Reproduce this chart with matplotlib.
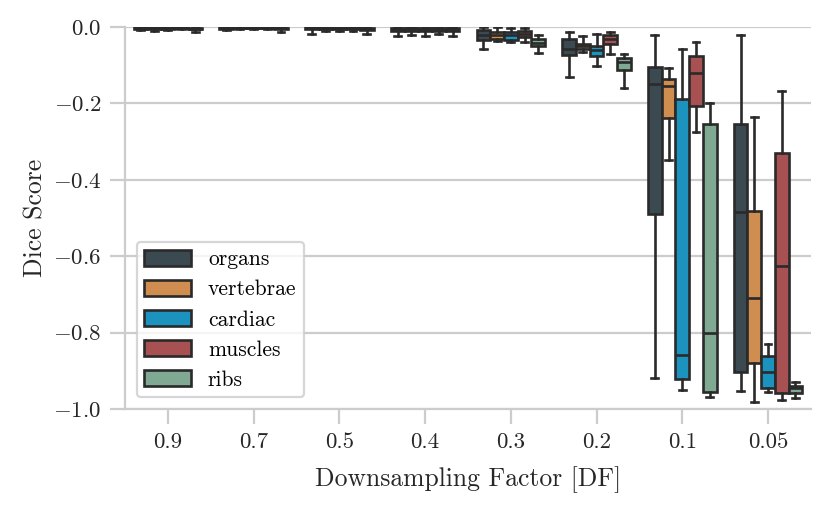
import matplotlib
matplotlib.use("Agg")
import matplotlib.pyplot as plt
from matplotlib.patches import Patch
import numpy as np

plt.rcParams['font.family'] = 'serif'
plt.rcParams['font.serif'] = ['cmr10']
plt.rcParams['mathtext.fontset'] = 'cm'
plt.rcParams['axes.formatter.use_mathtext'] = True
plt.rcParams['axes.unicode_minus'] = True

factors = ['0.9', '0.7', '0.5', '0.4', '0.3', '0.2', '0.1', '0.05']
structures = ['organs', 'vertebrae', 'cardiac', 'muscles', 'ribs']
colors = ['#3b4a50', '#cf8e50', '#1c93bf', '#a85153', '#7fa993']

# box stats per structure, one value per downsampling factor
organs_whishi = [0.0, 0.0, 0.0, 0.0, -0.001, -0.014, -0.020, -0.020]
organs_q3 = [-0.001, -0.001, -0.001, -0.002, -0.008, -0.032, -0.104, -0.255]
organs_med = [-0.002, -0.002, -0.003, -0.005, -0.021, -0.058, -0.150, -0.485]
organs_q1 = [-0.004, -0.004, -0.006, -0.010, -0.034, -0.073, -0.490, -0.904]
organs_whislo = [-0.007, -0.008, -0.017, -0.024, -0.058, -0.130, -0.920, -0.953]

vertebrae_whishi = [0.0, 0.0, 0.0, 0.0, -0.001, -0.024, -0.106, -0.236]
vertebrae_q3 = [-0.001, -0.001, -0.001, -0.003, -0.012, -0.043, -0.137, -0.481]
vertebrae_med = [-0.002, -0.002, -0.002, -0.006, -0.020, -0.050, -0.154, -0.709]
vertebrae_q1 = [-0.004, -0.003, -0.005, -0.010, -0.030, -0.058, -0.239, -0.880]
vertebrae_whislo = [-0.010, -0.006, -0.010, -0.022, -0.036, -0.065, -0.349, -0.981]

cardiac_whishi = [0.0, 0.0, 0.0, 0.0, -0.003, -0.018, -0.058, -0.831]
cardiac_q3 = [-0.001, -0.001, -0.002, -0.003, -0.013, -0.050, -0.188, -0.862]
cardiac_med = [-0.002, -0.002, -0.003, -0.006, -0.022, -0.060, -0.859, -0.904]
cardiac_q1 = [-0.004, -0.003, -0.006, -0.011, -0.033, -0.076, -0.921, -0.946]
cardiac_whislo = [-0.007, -0.006, -0.011, -0.024, -0.040, -0.102, -0.950, -0.956]

muscles_whishi = [0.0, 0.0, 0.0, 0.0, -0.002, -0.012, -0.039, -0.167]
muscles_q3 = [-0.001, -0.001, -0.001, -0.002, -0.010, -0.021, -0.075, -0.329]
muscles_med = [-0.002, -0.002, -0.002, -0.005, -0.018, -0.032, -0.121, -0.625]
muscles_q1 = [-0.003, -0.003, -0.005, -0.009, -0.026, -0.045, -0.207, -0.957]
muscles_whislo = [-0.006, -0.005, -0.010, -0.018, -0.040, -0.071, -0.276, -0.976]

ribs_whishi = [0.0, 0.0, 0.0, 0.0, -0.021, -0.071, -0.200, -0.928]
ribs_q3 = [-0.002, -0.002, -0.002, -0.003, -0.030, -0.082, -0.254, -0.939]
ribs_med = [-0.004, -0.003, -0.004, -0.006, -0.041, -0.091, -0.801, -0.946]
ribs_q1 = [-0.006, -0.005, -0.007, -0.011, -0.050, -0.113, -0.956, -0.959]
ribs_whislo = [-0.013, -0.012, -0.017, -0.024, -0.067, -0.160, -0.968, -0.970]

stats = {
    'organs': (organs_whislo, organs_q1, organs_med, organs_q3, organs_whishi),
    'vertebrae': (vertebrae_whislo, vertebrae_q1, vertebrae_med, vertebrae_q3, vertebrae_whishi),
    'cardiac': (cardiac_whislo, cardiac_q1, cardiac_med, cardiac_q3, cardiac_whishi),
    'muscles': (muscles_whislo, muscles_q1, muscles_med, muscles_q3, muscles_whishi),
    'ribs': (ribs_whislo, ribs_q1, ribs_med, ribs_q3, ribs_whishi),
}

line_col = '#2a2a2a'
grid_col = '#cccccc'
lw = 1.9

fig = plt.figure(figsize=(8.3, 5.11), dpi=100)
ax = fig.add_axes([0.1506, 0.1996, 0.8264, 0.7474])

n = len(structures)
bw = 0.8 / n
for j, s in enumerate(structures):
    lo, q1, med, q3, hi = stats[s]
    bxs = []
    for i in range(len(factors)):
        bxs.append({'whislo': lo[i], 'q1': q1[i], 'med': med[i], 'q3': q3[i],
                    'whishi': hi[i], 'fliers': []})
    pos = np.arange(len(factors)) - 0.4 + bw * (j + 0.5)
    ax.bxp(bxs, positions=pos, widths=bw, patch_artist=True, showfliers=False,
           manage_ticks=False,
           boxprops=dict(facecolor=colors[j], edgecolor=line_col, linewidth=lw),
           whiskerprops=dict(color=line_col, linewidth=lw),
           capprops=dict(color=line_col, linewidth=lw),
           medianprops=dict(color=line_col, linewidth=lw))

ax.set_xlim(-0.5, len(factors) - 0.5)
ax.set_ylim(-1.0, 0.0)
ax.set_xticks(np.arange(len(factors)))
ax.set_xticklabels(factors)
ax.set_yticks([0.0, -0.2, -0.4, -0.6, -0.8, -1.0])

ax.yaxis.grid(True, color=grid_col, linewidth=1.6)
ax.set_axisbelow(True)
for sp in ['top', 'right']:
    ax.spines[sp].set_visible(False)
for sp in ['left', 'bottom']:
    ax.spines[sp].set_color(grid_col)
    ax.spines[sp].set_linewidth(1.6)
ax.tick_params(axis='both', colors=grid_col, length=11, width=1.6,
               labelcolor='#262626', labelsize=16.5, pad=6)

ax.set_xlabel('Downsampling Factor [DF]', fontsize=18.5, color='#262626', labelpad=10)
ax.set_ylabel('Dice Score', fontsize=18.5, color='#262626', labelpad=4)

handles = [Patch(facecolor=c, edgecolor=line_col, linewidth=lw) for c in colors]
leg = ax.legend(handles, structures, loc='lower left', fontsize=15.5,
                handlelength=2.15, handleheight=0.8, labelspacing=0.48,
                handletextpad=0.8, borderpad=0.35, frameon=True,
                bbox_to_anchor=(0.0, 0.0), borderaxespad=0.55)
leg.get_frame().set_edgecolor(grid_col)
leg.get_frame().set_linewidth(1.6)

fig.savefig('out.png', dpi=100)
